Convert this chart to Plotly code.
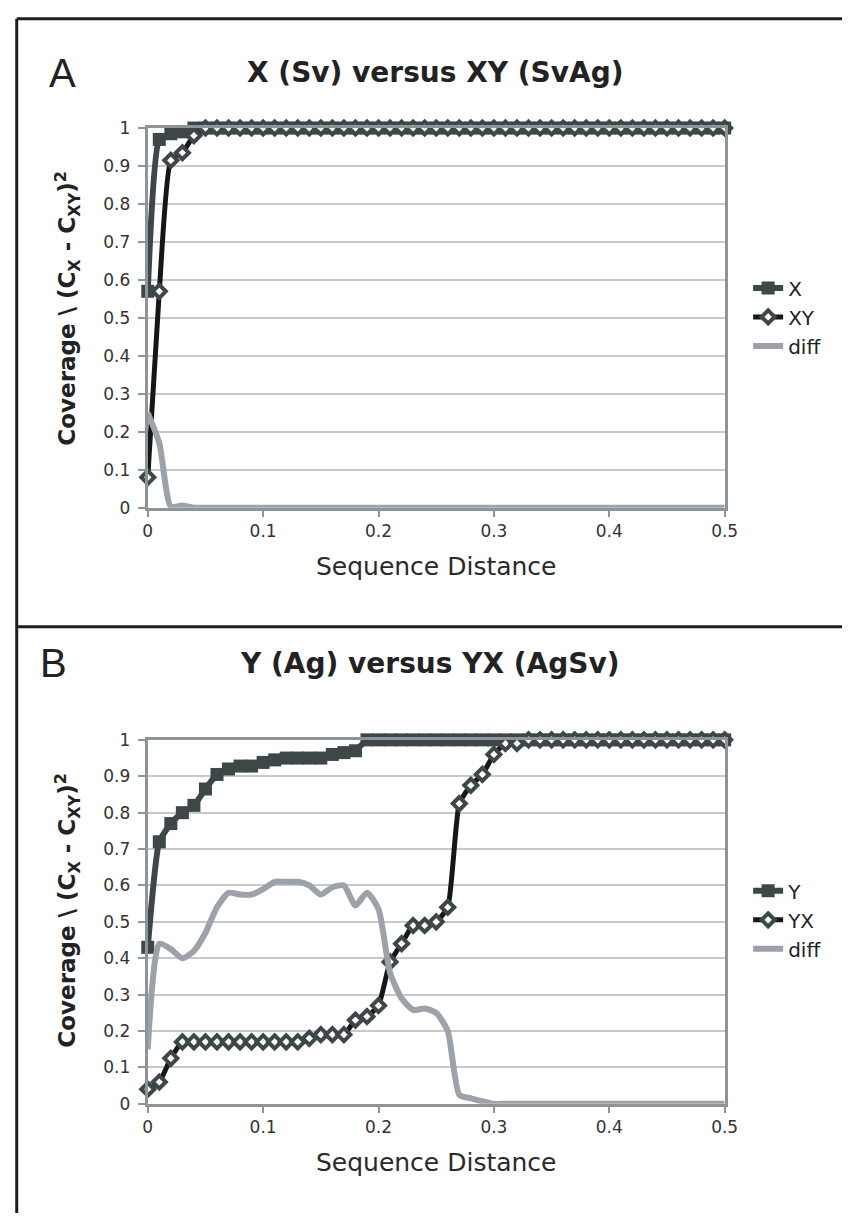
import plotly.graph_objects as go

# ---------------- data ----------------
dist = [0.00, 0.01, 0.02, 0.03, 0.04, 0.05, 0.06, 0.07, 0.08, 0.09,
        0.10, 0.11, 0.12, 0.13, 0.14, 0.15, 0.16, 0.17, 0.18, 0.19,
        0.20, 0.21, 0.22, 0.23, 0.24, 0.25, 0.26, 0.27, 0.28, 0.29,
        0.30, 0.31, 0.32, 0.33, 0.34, 0.35, 0.36, 0.37, 0.38, 0.39,
        0.40, 0.41, 0.42, 0.43, 0.44, 0.45, 0.46, 0.47, 0.48, 0.49, 0.50]

# Panel A : X (Sv) versus XY (SvAg)
cov_X = [0.57, 0.97, 0.985, 0.99, 1.0, 1.0, 1.0, 1.0, 1.0, 1.0,
         1.0, 1.0, 1.0, 1.0, 1.0, 1.0, 1.0, 1.0, 1.0, 1.0,
         1.0, 1.0, 1.0, 1.0, 1.0, 1.0, 1.0, 1.0, 1.0, 1.0,
         1.0, 1.0, 1.0, 1.0, 1.0, 1.0, 1.0, 1.0, 1.0, 1.0,
         1.0, 1.0, 1.0, 1.0, 1.0, 1.0, 1.0, 1.0, 1.0, 1.0, 1.0]
cov_XY = [0.08, 0.57, 0.915, 0.935, 0.98, 1.0, 1.0, 1.0, 1.0, 1.0,
          1.0, 1.0, 1.0, 1.0, 1.0, 1.0, 1.0, 1.0, 1.0, 1.0,
          1.0, 1.0, 1.0, 1.0, 1.0, 1.0, 1.0, 1.0, 1.0, 1.0,
          1.0, 1.0, 1.0, 1.0, 1.0, 1.0, 1.0, 1.0, 1.0, 1.0,
          1.0, 1.0, 1.0, 1.0, 1.0, 1.0, 1.0, 1.0, 1.0, 1.0, 1.0]
diff_A = [0.25, 0.17, 0.003, 0.006, 0.0, 0.0, 0.0, 0.0, 0.0, 0.0,
          0.0, 0.0, 0.0, 0.0, 0.0, 0.0, 0.0, 0.0, 0.0, 0.0,
          0.0, 0.0, 0.0, 0.0, 0.0, 0.0, 0.0, 0.0, 0.0, 0.0,
          0.0, 0.0, 0.0, 0.0, 0.0, 0.0, 0.0, 0.0, 0.0, 0.0,
          0.0, 0.0, 0.0, 0.0, 0.0, 0.0, 0.0, 0.0, 0.0, 0.0, 0.0]

# Panel B : Y (Ag) versus YX (AgSv)
cov_Y = [0.43, 0.72, 0.77, 0.80, 0.82, 0.865, 0.905, 0.92, 0.928, 0.928,
         0.938, 0.945, 0.95, 0.95, 0.95, 0.95, 0.96, 0.965, 0.97, 1.0,
         1.0, 1.0, 1.0, 1.0, 1.0, 1.0, 1.0, 1.0, 1.0, 1.0,
         1.0, 1.0, 1.0, 1.0, 1.0, 1.0, 1.0, 1.0, 1.0, 1.0,
         1.0, 1.0, 1.0, 1.0, 1.0, 1.0, 1.0, 1.0, 1.0, 1.0, 1.0]
cov_YX = [0.04, 0.06, 0.125, 0.17, 0.17, 0.17, 0.17, 0.17, 0.17, 0.17,
          0.17, 0.17, 0.17, 0.17, 0.18, 0.19, 0.19, 0.19, 0.23, 0.24,
          0.27, 0.39, 0.44, 0.49, 0.49, 0.50, 0.54, 0.825, 0.875, 0.905,
          0.96, 0.99, 0.99, 1.0, 1.0, 1.0, 1.0, 1.0, 1.0, 1.0,
          1.0, 1.0, 1.0, 1.0, 1.0, 1.0, 1.0, 1.0, 1.0, 1.0, 1.0]
diff_B = [0.15, 0.44, 0.425, 0.40, 0.42, 0.47, 0.54, 0.58, 0.575, 0.575,
          0.59, 0.61, 0.61, 0.61, 0.60, 0.575, 0.595, 0.60, 0.545, 0.58,
          0.535, 0.36, 0.29, 0.258, 0.262, 0.25, 0.20, 0.025, 0.015, 0.007,
          0.0, 0.0, 0.0, 0.0, 0.0, 0.0, 0.0, 0.0, 0.0, 0.0,
          0.0, 0.0, 0.0, 0.0, 0.0, 0.0, 0.0, 0.0, 0.0, 0.0, 0.0]

x_tickvals = [0, 0.1, 0.2, 0.3, 0.4, 0.5]
x_ticktext = ["0", "0.1", "0.2", "0.3", "0.4", "0.5"]
y_tickvals = [0, 0.1, 0.2, 0.3, 0.4, 0.5, 0.6, 0.7, 0.8, 0.9, 1.0]
y_ticktext = ["0", "0.1", "0.2", "0.3", "0.4", "0.5", "0.6", "0.7", "0.8", "0.9", "1"]

# ---------------- styling ----------------
W, H = 856, 1223
DARK = "#3e4747"
BLACK = "#161616"
GRAY = "#9ca2a8"
AXIS = "#8d959b"
GRID = "#c9c9c9"
FONT = "DejaVu Sans"


def px_x(v):
    return v / W


def px_y(v):
    return 1 - v / H


fig = go.Figure()


def add_panel(xa, ya, leg, names, s1, s2, s3):
    fig.add_trace(go.Scatter(
        x=dist, y=s1, name=names[0], xaxis=xa, yaxis=ya, legend=leg,
        mode="lines+markers", cliponaxis=False,
        line=dict(color=DARK, width=6, shape="spline", smoothing=0.5),
        marker=dict(symbol="square", size=13, color=DARK)))
    fig.add_trace(go.Scatter(
        x=dist, y=s2, name=names[1], xaxis=xa, yaxis=ya, legend=leg,
        mode="lines+markers", cliponaxis=False,
        line=dict(color=BLACK, width=5, shape="spline", smoothing=0.5),
        marker=dict(symbol="diamond", size=10, color="white",
                    line=dict(color=DARK, width=4))))
    fig.add_trace(go.Scatter(
        x=dist, y=s3, name=names[2], xaxis=xa, yaxis=ya, legend=leg,
        mode="lines", cliponaxis=False,
        line=dict(color=GRAY, width=6, shape="spline", smoothing=0.6)))


add_panel("x", "y", "legend", ["X", "XY", "diff"], cov_X, cov_XY, diff_A)
add_panel("x2", "y2", "legend2", ["Y", "YX", "diff"], cov_Y, cov_YX, diff_B)

xdom = [px_x(146), px_x(736)]
ydomA = [px_y(506), px_y(120)]
ydomB = [px_y(1112), px_y(742)]

xaxis_common = dict(
    domain=xdom, range=[0, 0.5], tickmode="array", tickvals=x_tickvals,
    ticktext=x_ticktext, showgrid=False, zeroline=False, showline=True,
    mirror=True, linecolor=AXIS, linewidth=3, ticks="outside", ticklen=6,
    tickwidth=2, tickcolor=AXIS, tickfont=dict(family=FONT, size=17, color="#333333"),
    title=dict(text="Sequence Distance", font=dict(family=FONT, size=25, color="#2a2a2a"),
               standoff=18),
    fixedrange=True)
yaxis_common = dict(
    range=[0, 1], tickmode="array", tickvals=y_tickvals, ticktext=y_ticktext,
    showgrid=True, gridcolor=GRID, gridwidth=2, zeroline=False, showline=True,
    mirror=True, linecolor=AXIS, linewidth=3, ticks="outside", ticklen=7,
    tickwidth=2, tickcolor=AXIS, ticklabelstandoff=4,
    tickfont=dict(family=FONT, size=17, color="#333333"), fixedrange=True)

ytitle = "Coverage \\ (C<sub>X</sub> - C<sub>XY</sub>)<sup>2</sup>"

fig.update_layout(
    width=W, height=H, margin=dict(l=0, r=0, t=0, b=0),
    paper_bgcolor="white", plot_bgcolor="white",
    font=dict(family=FONT, color="#222222"),
    xaxis=dict(xaxis_common, anchor="y"),
    yaxis=dict(yaxis_common, domain=ydomA, anchor="x"),
    xaxis2=dict(xaxis_common, anchor="y2"),
    yaxis2=dict(yaxis_common, domain=ydomB, anchor="x2"),
    legend=dict(x=px_x(760), y=px_y(312), xanchor="left", yanchor="middle",
                font=dict(family=FONT, size=20, color="#222222"),
                bgcolor="rgba(0,0,0,0)", itemwidth=30, tracegroupgap=0),
    legend2=dict(x=px_x(760), y=px_y(925), xanchor="left", yanchor="middle",
                 font=dict(family=FONT, size=20, color="#222222"),
                 bgcolor="rgba(0,0,0,0)", itemwidth=30, tracegroupgap=0),
    showlegend=True,
    hovermode=False,
)

LETTER_FONT = "Liberation Sans Narrow, Liberation Sans, sans-serif"
annotations = [
    dict(text="A", x=px_x(59), y=px_y(64), font=dict(family=LETTER_FONT, size=40, color="#222222")),
    dict(text="B", x=px_x(50), y=px_y(664), font=dict(family=LETTER_FONT, size=40, color="#222222")),
    dict(text="<b>X (Sv) versus XY (SvAg)</b>", x=px_x(440), y=px_y(64),
         font=dict(family=FONT, size=28, color="#222222")),
    dict(text="<b>Y (Ag) versus YX (AgSv)</b>", x=px_x(434), y=px_y(664),
         font=dict(family=FONT, size=28, color="#222222")),
    dict(text="<b>" + ytitle + "</b>", x=px_x(63), y=px_y(303), textangle=-90,
         font=dict(family=FONT, size=23, color="#222222")),
    dict(text="<b>" + ytitle + "</b>", x=px_x(63), y=px_y(915), textangle=-90,
         font=dict(family=FONT, size=23, color="#222222")),
]
for a in annotations:
    a.update(xref="paper", yref="paper", xanchor="center", yanchor="middle", showarrow=False)
fig.update_layout(annotations=annotations)

frame = dict(type="line", xref="paper", yref="paper", line=dict(color="#1e1e1e", width=3))
fig.update_layout(shapes=[
    dict(frame, x0=px_x(12), x1=px_x(12), y0=0, y1=px_y(9)),
    dict(frame, x0=px_x(12), x1=1, y0=px_y(9), y1=px_y(9)),
    dict(frame, x0=px_x(12), x1=1, y0=px_y(627), y1=px_y(627)),
])

fig.write_html(
    "out.html",
    config={"displayModeBar": False, "staticPlot": True},
    post_script="document.documentElement.style.margin='0';"
                "document.body.style.margin='0';document.body.style.overflow='hidden';",
)
